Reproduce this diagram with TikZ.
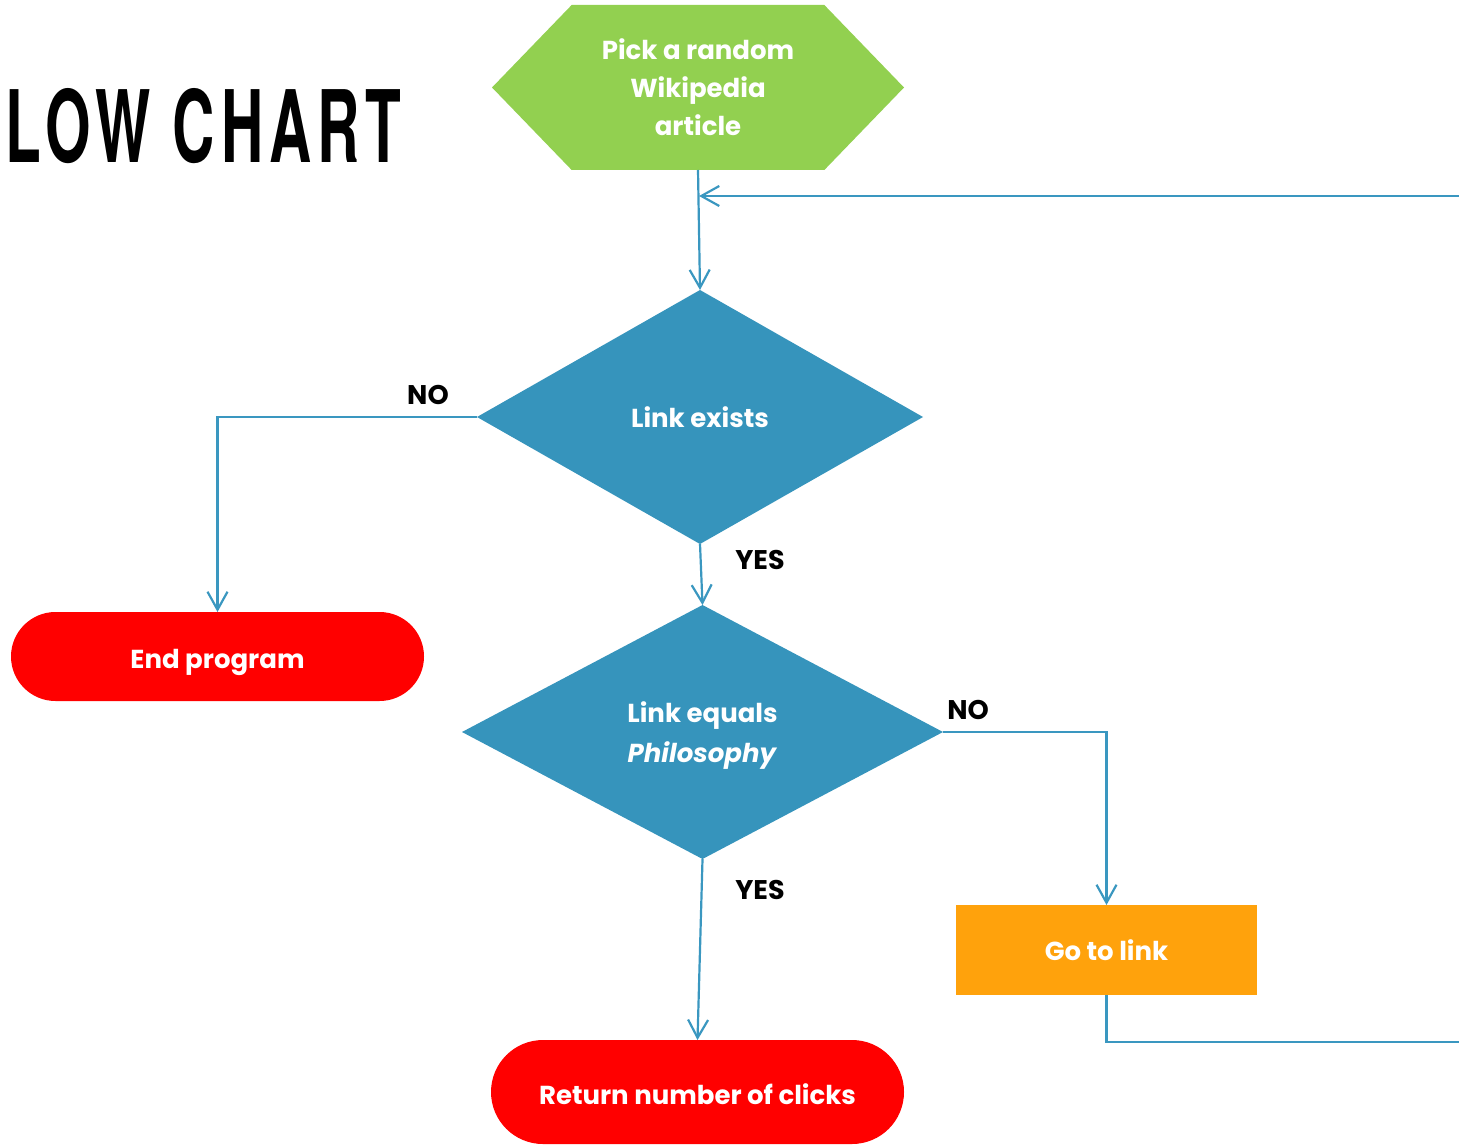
\documentclass[tikz,border=0pt]{standalone}
\usepackage{fontspec}
\setmainfont{Poppins}
\newfontfamily\titlefont[LetterSpace=10]{TeX Gyre Heros}
\usetikzlibrary{shapes.geometric,shapes.misc,shapes.symbols,arrows.meta}
\definecolor{hexgreen}{RGB}{146,208,80}
\definecolor{diablue}{RGB}{54,148,188}
\definecolor{linkblue}{RGB}{58,151,192}
\definecolor{goorange}{RGB}{255,162,12}
\definecolor{endred}{RGB}{255,0,0}
\tikzset{
  boxtext/.style={text=white,font=\bfseries\fontsize{13}{19}\selectfont,align=center,inner sep=0pt,outer sep=0pt},
  hexbox/.style={boxtext,shape=signal,signal to=west and east,signal pointer angle=92,fill=hexgreen,minimum width=206pt,minimum height=82.5pt},
  diabox/.style={boxtext,shape=diamond,fill=diablue,minimum height=127pt},
  termbox/.style={boxtext,shape=rounded rectangle,fill=endred,minimum width=206.5pt},
  gobox/.style={boxtext,shape=rectangle,fill=goorange,minimum width=150.5pt,minimum height=45pt},
  conn/.style={draw=linkblue,line width=1.1pt},
  arr/.style={conn,-{Straight Barb[length=9pt,width=10pt,line width=1.1pt]}},
  lbl/.style={font=\bfseries\fontsize{13.5}{15}\selectfont,text=black,inner sep=0pt}
}
\begin{document}
\begin{tikzpicture}[x=0.5pt,y=-0.5pt]
\useasboundingbox (0,0) rectangle (1459,1144);
% title
\node[anchor=base west,inner sep=0pt] (title) at (5,163) {\scalebox{0.585}[1]{\titlefont\bfseries\fontsize{50}{50}\selectfont LOW CHART}};
% shapes
\node[hexbox] (hex) at (698,87.5) {Pick a random\\Wikipedia\\article};
\node[diabox,minimum width=223pt] (d1) at (700,417) {Link exists};
\node[diabox,minimum width=240.5pt,text depth=0pt,font=\bfseries\fontsize{13}{20}\selectfont] (d2) at (702.5,732) {Link equals\\\textit{Philosophy}};
\node[termbox,minimum height=44.5pt,text height=11.5pt,text depth=0pt] (endp) at (217.5,656.5) {End program};
\node[termbox,minimum height=52pt,text height=12pt,text depth=0pt] (ret) at (697.5,1092) {Return number of clicks};
\node[gobox] (go) at (1106.5,950) {Go to link};
% connectors
\coordinate (rtop) at (1459,196);
\coordinate (jtop) at (699,196);
\coordinate (rbot) at (1459,1042);
\draw[arr] (hex.south) -- (d1.north);
\draw[arr] (rtop) -- (jtop);
\draw[arr] (d1.west) -| (endp.north);
\draw[arr] (d1.south) -- (d2.north);
\draw[arr] (d2.east) -| (go.north);
\draw[arr] (d2.south) -- (ret.north);
\draw[conn] (go.south) |- (rbot);
% labels
\node[lbl] (no1) at (428,395) {NO};
\node[lbl] (yes1) at (760,560) {YES};
\node[lbl] (no2) at (968,710) {NO};
\node[lbl] (yes2) at (760,890) {YES};
\end{tikzpicture}
\end{document}
